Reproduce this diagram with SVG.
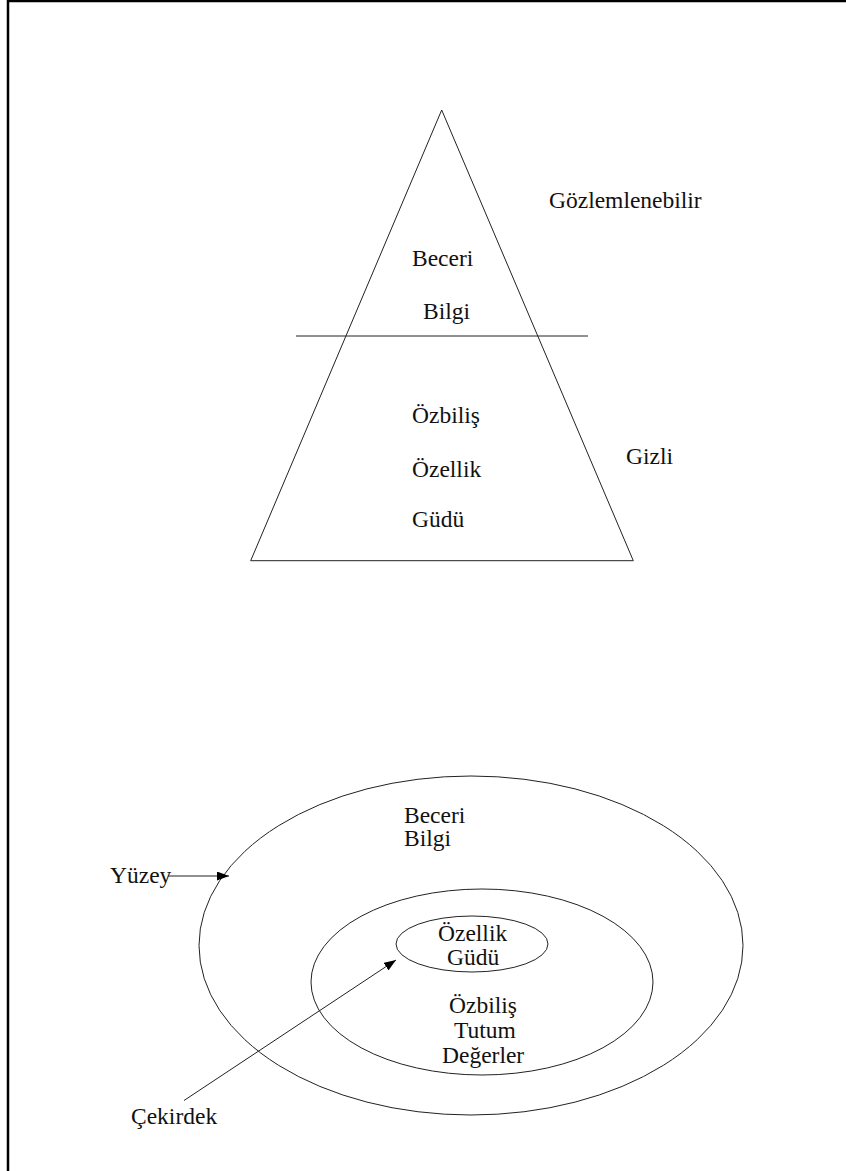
<svg xmlns="http://www.w3.org/2000/svg" width="846" height="1171" viewBox="0 0 846 1171">
<defs>
<style>
text{font-family:'Liberation Serif','DejaVu Serif',serif;font-size:23.5px;fill:#111}
.s{fill:none;stroke:#222;stroke-width:1}
</style>
<marker id="ah" markerWidth="12" markerHeight="9" refX="12" refY="4.5" orient="auto" markerUnits="userSpaceOnUse">
<path d="M0,0 L12,4.5 L0,9 Z" fill="#000"/>
</marker>
</defs>
<rect width="846" height="1171" fill="#fff"/>
<g id="frame">
<path d="M8,1171 V1 H846" fill="none" stroke="#000" stroke-width="2.5"/>
</g>
<g font-family="Liberation Serif, serif" font-size="23.5">
<g id="pyramid">
<polygon class="s" points="441.7,110 250.7,560.7 633.3,560.7"/>
<line class="s" x1="296" y1="336" x2="588" y2="336"/>
<text x="412" y="266">Beceri</text>
<text x="423" y="319">Bilgi</text>
<text x="412" y="423">Özbiliş</text>
<text x="412" y="477">Özellik</text>
<text x="412" y="527">Güdü</text>
</g>
<g id="label-gozlemlenebilir"><text x="549" y="208">Gözlemlenebilir</text></g>
<g id="label-gizli"><text x="626" y="464">Gizli</text></g>
<g id="outer">
<ellipse class="s" cx="471" cy="945.5" rx="272" ry="169.5"/>
<text x="404" y="823">Beceri</text>
<text x="404" y="846">Bilgi</text>
</g>
<g id="middle">
<ellipse class="s" cx="482" cy="982" rx="171" ry="93"/>
<text x="449" y="1013">Özbiliş</text>
<text x="454" y="1038">Tutum</text>
<text x="442" y="1063">Değerler</text>
</g>
<g id="core">
<ellipse class="s" cx="472" cy="944" rx="76" ry="28"/>
<text x="438" y="941">Özellik</text>
<text x="447" y="965">Güdü</text>
</g>
<g id="label-yuzey"><text x="110" y="883">Yüzey</text></g>
<g id="label-cekirdek"><text x="131" y="1124">Çekirdek</text></g>
</g>
<g id="connectors">
<line class="s" x1="168" y1="876" x2="229" y2="876" marker-end="url(#ah)"/>
<line class="s" x1="184" y1="1100.5" x2="396" y2="960" marker-end="url(#ah)"/>
</g>
</svg>
